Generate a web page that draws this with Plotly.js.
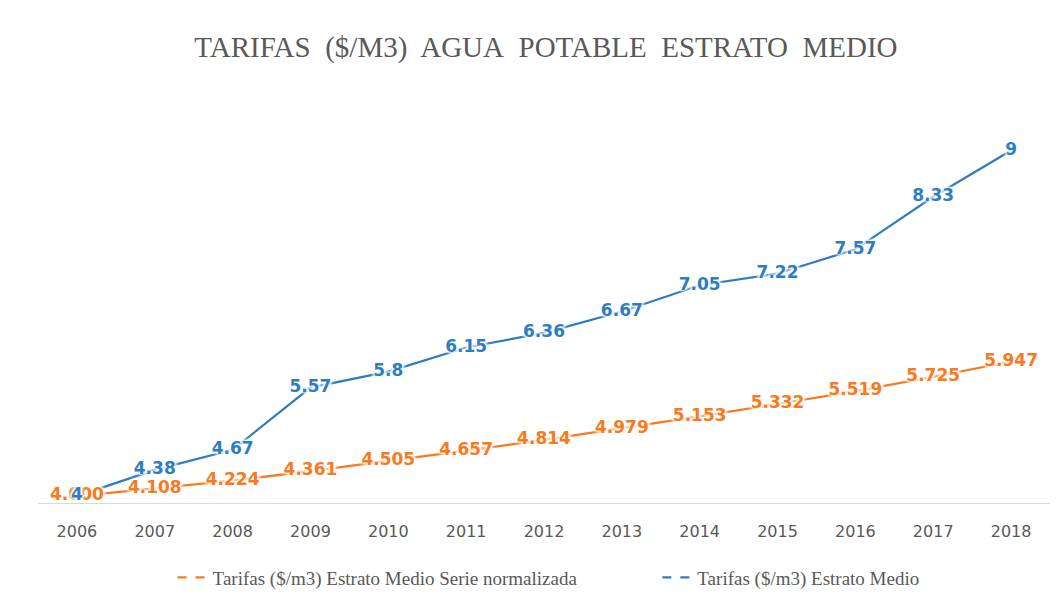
<!DOCTYPE html>
<html>
<head>
<meta charset="utf-8">
<script src="https://cdn.plot.ly/plotly-3.0.1.min.js"></script>
<style>html,body{margin:0;padding:0;background:#fff;}#chart{width:1060px;height:607px;}</style>
</head>
<body>
<div id="chart"></div>
<script>
var years = ['2006','2007','2008','2009','2010','2011','2012','2013','2014','2015','2016','2017','2018'];
var normalizada = [4.000, 4.108, 4.224, 4.361, 4.505, 4.657, 4.814, 4.979, 5.153, 5.332, 5.519, 5.725, 5.947];
var medio = [4, 4.38, 4.67, 5.57, 5.8, 6.15, 6.36, 6.67, 7.05, 7.22, 7.57, 8.33, 9];
var nameNorm = 'Tarifas ($/m3) Estrato Medio Serie normalizada';
var nameMedio = 'Tarifas ($/m3) Estrato Medio';
var titleText = 'TARIFAS&nbsp; ($/M3)&nbsp; AGUA&nbsp; POTABLE&nbsp; ESTRATO&nbsp; MEDIO';

var orange = '#F77A1E';
var blue = '#2E7DC2';
var sans = 'DejaVu Sans, Verdana, sans-serif';
var serif = 'Liberation Serif';
var halo = '0 0 2px #fff, 0 0 3px #fff, 0 0 4px #fff, 2px 0 3px #fff, -2px 0 3px #fff';

var traces = [
  {x: years, y: normalizada, type: 'scatter', mode: 'lines', showlegend: false,
   line: {color: orange, width: 2.25}, cliponaxis: false, hoverinfo: 'x+y'},
  {x: years, y: medio, type: 'scatter', mode: 'lines', showlegend: false,
   line: {color: blue, width: 2.25}, cliponaxis: false, hoverinfo: 'x+y'},
  {x: years, y: normalizada, type: 'scatter', mode: 'text', showlegend: false,
   text: normalizada.map(function(v){return v.toFixed(3);}), textposition: 'middle center',
   textfont: {family: sans, size: 17, weight: 'bold', color: orange, shadow: halo},
   cliponaxis: false, hoverinfo: 'skip'},
  {x: years, y: medio, type: 'scatter', mode: 'text', showlegend: false,
   text: medio.map(function(v){return String(v);}), textposition: 'middle center',
   textfont: {family: sans, size: 17, weight: 'bold', color: blue, shadow: halo},
   cliponaxis: false, hoverinfo: 'skip'},
  {x: [null], y: [null], type: 'scatter', mode: 'lines', name: nameNorm, legend: 'legend',
   line: {color: orange, width: 2.25, dash: 'dash'}},
  {x: [null], y: [null], type: 'scatter', mode: 'lines', name: nameMedio, legend: 'legend2',
   line: {color: blue, width: 2.25, dash: 'dash'}}
];

var legendFont = {family: serif, size: 19, color: '#595959'};
var layout = {
  width: 1060, height: 607,
  paper_bgcolor: '#ffffff', plot_bgcolor: '#ffffff',
  margin: {l: 38, r: 10, t: 100, b: 102},
  title: {text: titleText, x: 0.515, xanchor: 'center', y: 0.923, yanchor: 'middle',
          font: {family: serif, size: 29, color: '#595959'}},
  xaxis: {type: 'category', showline: true, linecolor: '#d9d9d9', linewidth: 1, showgrid: false,
          ticks: '', zeroline: false, range: [-0.5, 12.5], ticklabelstandoff: 14,
          tickfont: {family: sans, size: 16, color: '#595959'}},
  yaxis: {range: [3.9, 9.73], visible: false, showgrid: false, zeroline: false},
  legend: {orientation: 'h', x: 0.133, xanchor: 'left', y: -0.185, yanchor: 'middle',
           font: legendFont, itemwidth: 30, bgcolor: 'rgba(0,0,0,0)'},
  legend2: {orientation: 'h', x: 0.612, xanchor: 'left', y: -0.185, yanchor: 'middle',
           font: legendFont, itemwidth: 30, bgcolor: 'rgba(0,0,0,0)'},
  showlegend: true
};

Plotly.newPlot('chart', traces, layout, {displayModeBar: false, staticPlot: true});
</script>
</body>
</html>
